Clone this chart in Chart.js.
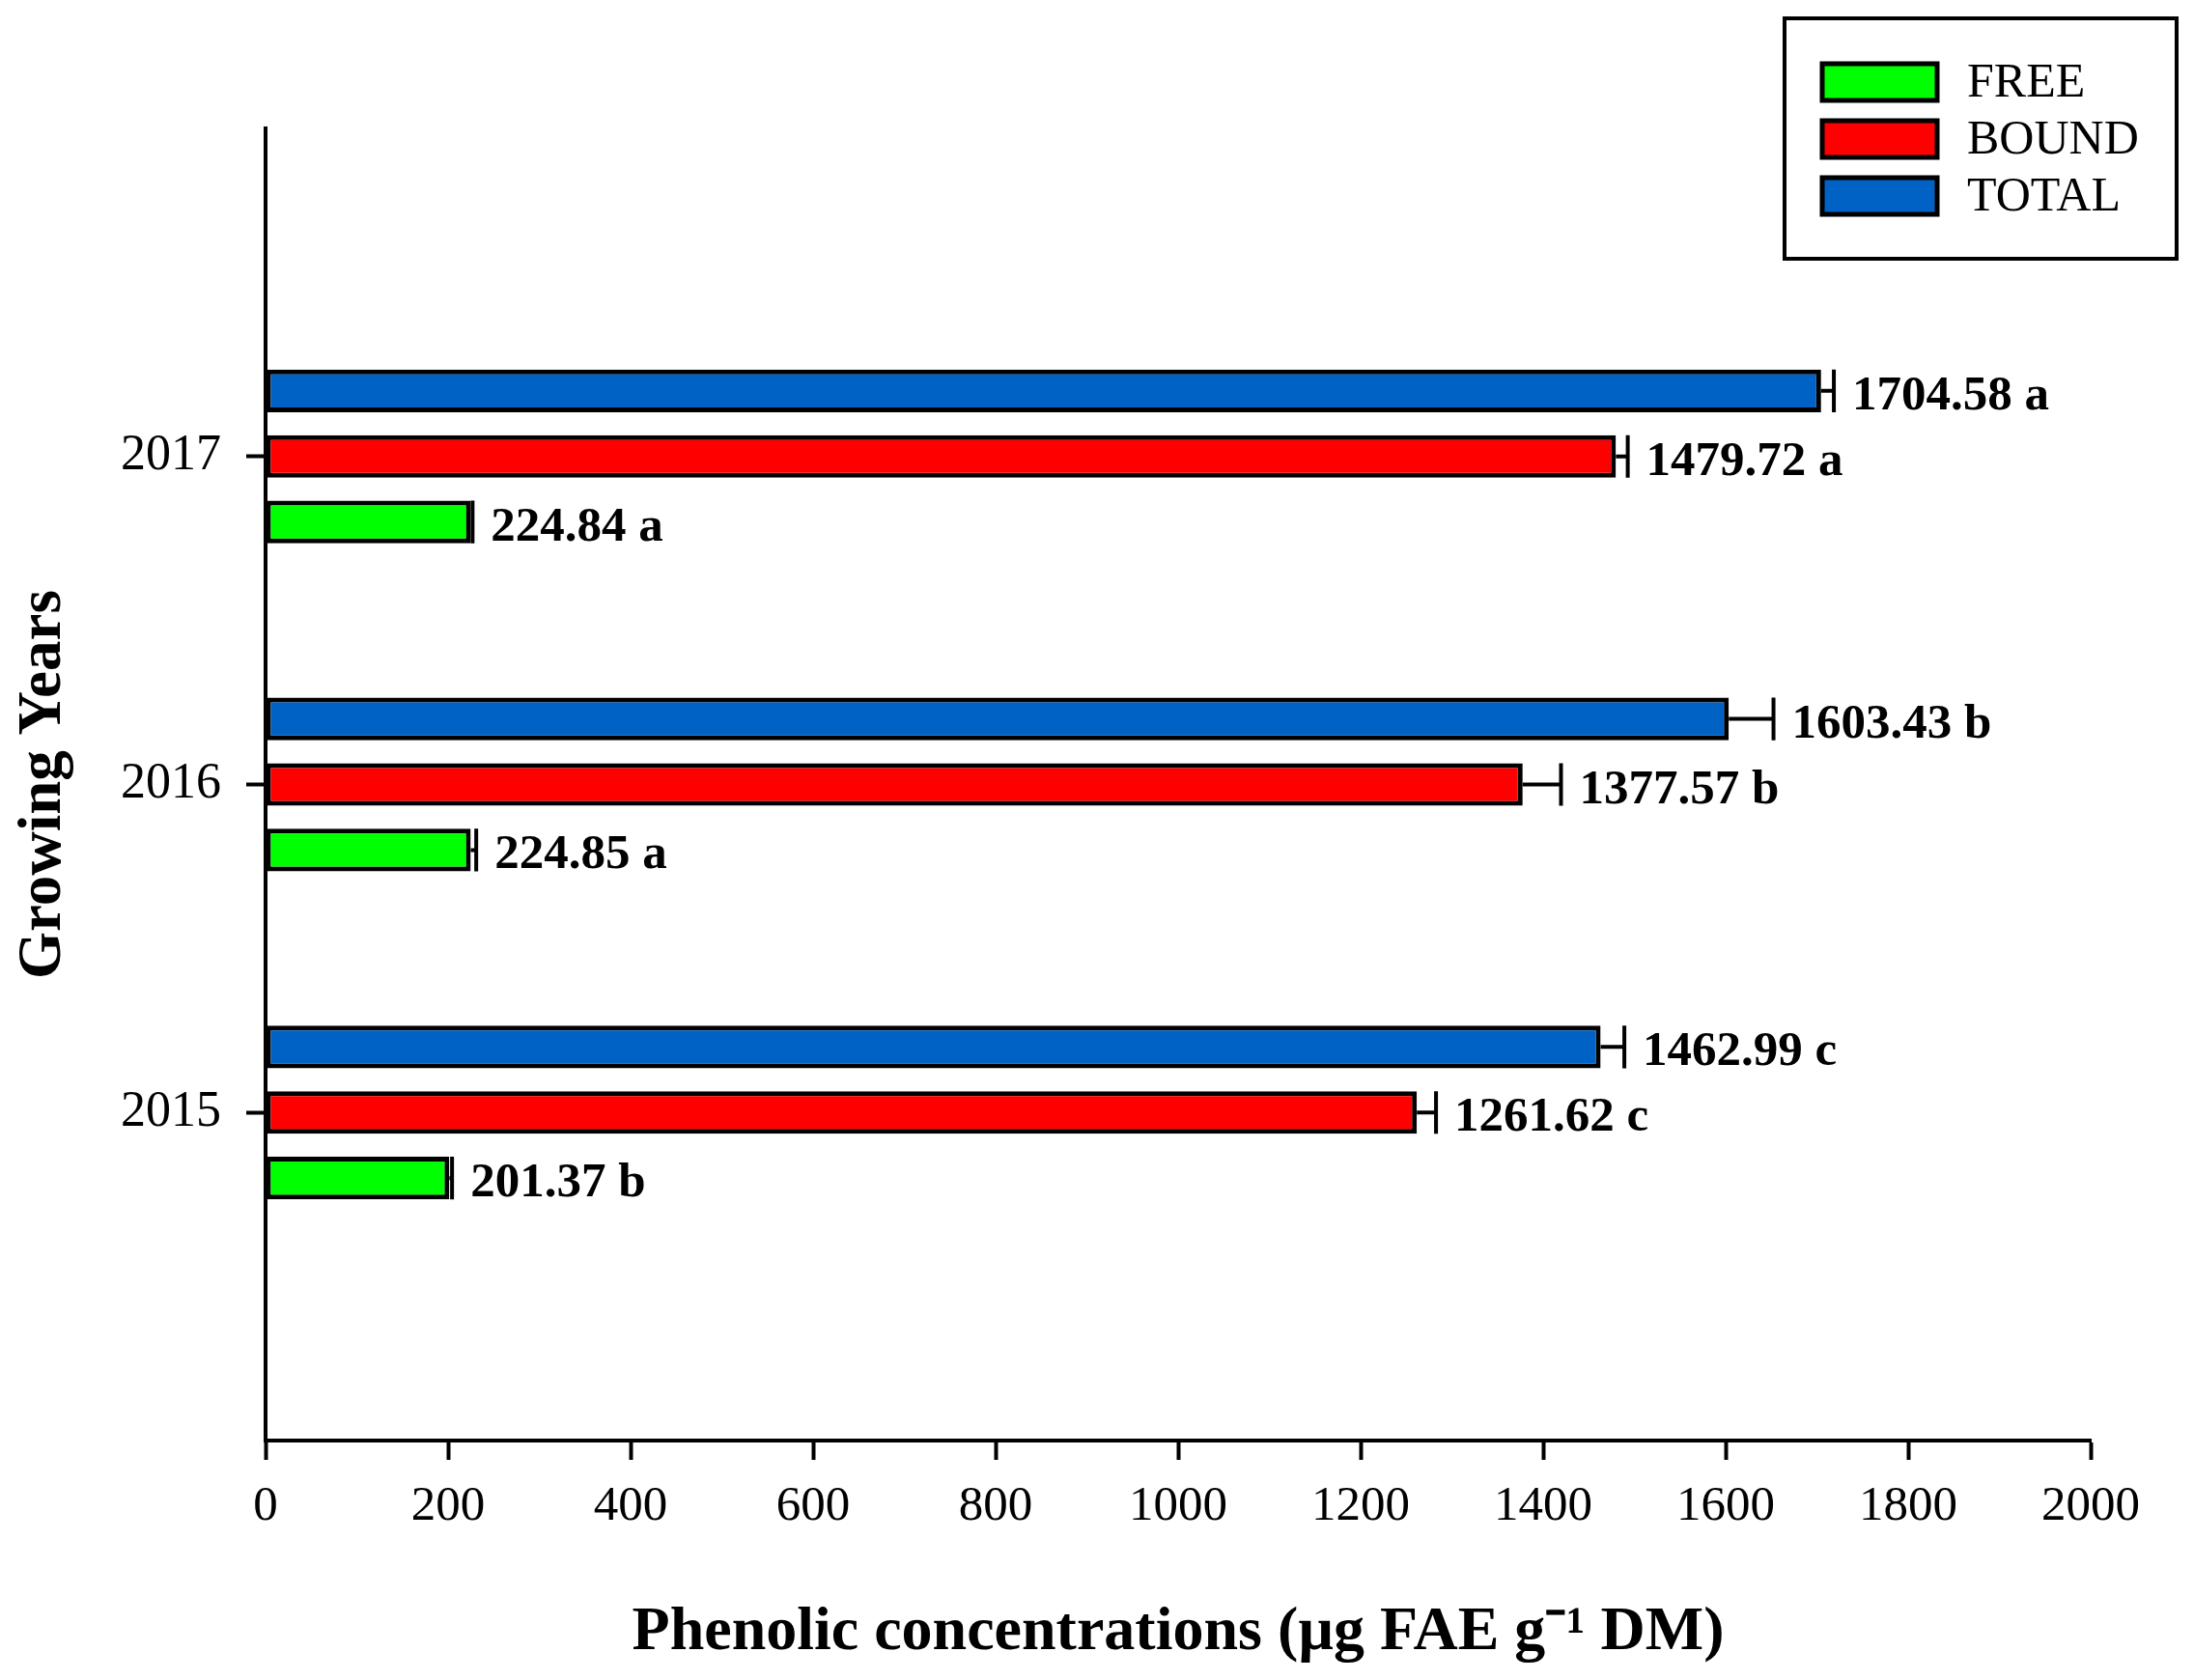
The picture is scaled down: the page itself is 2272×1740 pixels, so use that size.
<!DOCTYPE html>
<html>
<head>
<meta charset="utf-8">
<script src="https://cdn.jsdelivr.net/npm/chart.js@4.4.1/dist/chart.umd.min.js"></script>
<style>
  html, body { margin: 0; padding: 0; background: #fff; }
  #wrap { width: 2272px; height: 1740px; }
</style>
</head>
<body>
<div id="wrap"><canvas id="barChart" width="2272" height="1740"></canvas></div>
<script>
// values, top to bottom: 2017, 2016, 2015
const years = ['2017', '2016', '2015'];
const freeVals = [224.84, 224.85, 201.37];
const boundVals = [1479.72, 1377.57, 1261.62];
const totalVals = [1704.58, 1603.43, 1462.99];
const freeErr = [2, 6, 3];
const boundErr = [13, 42, 21];
const totalErr = [14, 49, 26];
const freeLetters = ['a', 'a', 'b'];
const boundLetters = ['a', 'b', 'c'];
const totalLetters = ['a', 'b', 'c'];
const xTicks = [0, 200, 400, 600, 800, 1000, 1200, 1400, 1600, 1800, 2000];

// empty slots above and below so the years sit at quarter points of the axis
const labels = [''].concat(years, ['']);
const pad = arr => [null].concat(arr, [null]);

const serif = "'Liberation Serif', 'Times New Roman', serif";

const errorBars = {
   id: 'errorBars',
   afterDatasetsDraw(chart) {
      const c = chart.ctx;
      const xs = chart.scales.x;
      chart.data.datasets.forEach((ds, di) => {
         const meta = chart.getDatasetMeta(di);
         meta.data.forEach((bar, i) => {
            const v = ds.data[i];
            if (v === null || v === undefined) return;
            const err = ds.errors[i];
            const end = xs.getPixelForValue(v);
            const cap = xs.getPixelForValue(v + err);
            const h = bar.height;
            c.save();
            c.strokeStyle = '#000';
            c.lineWidth = 4;
            c.beginPath();
            c.moveTo(end, bar.y);
            c.lineTo(cap, bar.y);
            c.moveTo(cap, bar.y - h / 2);
            c.lineTo(cap, bar.y + h / 2);
            c.stroke();
            c.fillStyle = '#000';
            c.font = 'bold 51px ' + serif;
            c.textAlign = 'left';
            c.textBaseline = 'alphabetic';
            c.fillText(v.toFixed(2) + ' ' + ds.letters[i], cap + 19, bar.y + 19);
            c.restore();
         });
      });
   }
};

const boxLegend = {
   id: 'boxLegend',
   afterDraw(chart) {
      const c = chart.ctx;
      c.save();
      c.strokeStyle = '#000';
      c.lineWidth = 4;
      c.strokeRect(1848, 19, 406, 249);
      // FREE, BOUND, TOTAL order as in the figure
      const items = chart.data.datasets.slice().reverse();
      items.forEach((ds, k) => {
         const y = 64 + k * 59;
         c.fillStyle = ds.backgroundColor;
         c.lineWidth = 5;
         c.fillRect(1887, y + 2, 119, 38);
         c.strokeRect(1887, y + 2, 119, 38);
         c.fillStyle = '#000';
         c.font = '50px ' + serif;
         c.textAlign = 'left';
         c.textBaseline = 'middle';
         c.fillText(ds.label, 2037, y + 23);
      });
      c.restore();
   }
};

const ctx = document.getElementById('barChart').getContext('2d');
const barChart = new Chart(ctx, {
   type: 'bar',
   data: {
      labels: labels,
      datasets: [{
         label: 'TOTAL',
         data: pad(totalVals),
         errors: pad(totalErr),
         letters: pad(totalLetters),
         backgroundColor: '#0062C4',
      }, {
         label: 'BOUND',
         data: pad(boundVals),
         errors: pad(boundErr),
         letters: pad(boundLetters),
         backgroundColor: '#FF0000',
      }, {
         label: 'FREE',
         data: pad(freeVals),
         errors: pad(freeErr),
         letters: pad(freeLetters),
         backgroundColor: '#00FF00',
      }]
   },
   options: {
      indexAxis: 'y',
      responsive: false,
      devicePixelRatio: 1,
      animation: false,
      datasets: {
         bar: {
            borderColor: '#000',
            borderWidth: 5,
            borderSkipped: false,
            categoryPercentage: 0.6,
            barPercentage: 0.65,
         }
      },
      layout: { padding: { top: 133, right: 107, left: 0, bottom: 0 } },
      plugins: {
         legend: { display: false },
         tooltip: { enabled: false },
      },
      scales: {
         x: {
            type: 'linear',
            min: 0,
            max: 2000,
            afterBuildTicks: s => { s.ticks = xTicks.map(v => ({ value: v })); },
            afterFit: s => { s.height = 248; },
            grid: { drawOnChartArea: false, tickLength: 20, tickWidth: 4, tickColor: '#000' },
            border: { display: true, color: '#000', width: 4 },
            ticks: {
               color: '#000',
               font: { family: serif, size: 51 },
               padding: 18,
               maxRotation: 0,
               callback: v => String(v),
            },
            title: {
               display: true,
               text: 'Phenolic concentrations (µg FAE g⁻¹ DM)',
               color: '#000',
               font: { family: serif, size: 64, weight: 'bold' },
               padding: { top: 0, bottom: 10 },
            },
         },
         y: {
            type: 'category',
            offset: false,
            afterBuildTicks: s => { s.ticks = s.ticks.filter(t => labels[t.value] !== ''); },
            afterFit: s => { s.width = 275; },
            grid: { offset: false, drawOnChartArea: false, tickLength: 20, tickWidth: 4, tickColor: '#000' },
            border: { display: true, color: '#000', width: 4 },
            ticks: { color: '#000', font: { family: serif, size: 52 }, padding: 26 },
            title: {
               display: true,
               text: 'Growing Years',
               color: '#000',
               font: { family: serif, size: 63, weight: 'bold' },
               padding: { top: 8, bottom: 0 },
            },
         }
      }
   },
   plugins: [errorBars, boxLegend]
});
</script>
</body>
</html>
